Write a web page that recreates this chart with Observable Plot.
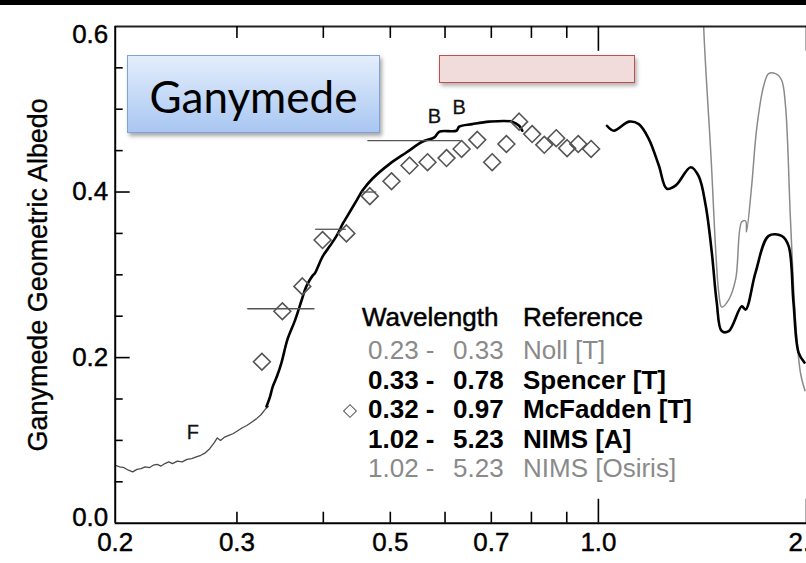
<!DOCTYPE html>
<html><head><meta charset="utf-8">
<script src="https://cdn.jsdelivr.net/npm/d3@7"></script>
<script src="https://cdn.jsdelivr.net/npm/@observablehq/plot@0.6"></script>
<style>
html,body{margin:0;padding:0;background:#fff;overflow:hidden;}
#wrap{position:relative;width:806px;height:563px;overflow:hidden;background:#fff;}
#chart{position:absolute;left:0;top:0;}
#topbar{position:absolute;left:0;top:0;width:806px;height:5px;background:#000;}
.box{position:absolute;box-sizing:border-box;}
#gany{left:127px;top:55px;width:253px;height:78px;border:1.5px solid #7fa3d6;background:linear-gradient(#e4eefc,#a9c7f2);box-shadow:2px 3px 4px rgba(0,0,0,0.35);font-family:Lato,"Open Sans",sans-serif;font-size:44px;display:flex;align-items:center;justify-content:center;color:#000;padding-top:4px;}
#pink{left:439px;top:55px;width:196px;height:28px;border:1.5px solid #c0504d;background:#f2dcdb;box-shadow:2px 3px 4px rgba(0,0,0,0.3);}
#legend{position:absolute;left:0;top:0;font-family:"Liberation Sans",Arial,Helvetica,sans-serif;font-size:26px;}
#legend div{position:absolute;line-height:30px;white-space:pre;}
.grey{color:#8a8a8a;}
.blk{color:#000;font-weight:bold;}
.hdr{color:#000;-webkit-text-stroke:0.5px #000;}
#legdia{position:absolute;width:10px;height:10px;border:1.6px solid #555;transform:rotate(45deg);box-sizing:border-box;}
</style></head><body>
<div id="wrap">
  <div id="chart"></div>
  <div id="topbar"></div>
  <div class="box" id="gany">Ganymede</div>
  <div class="box" id="pink"></div>
  <div id="legend"></div>
</div>
<script>
// ---------- data ----------
// Noll [T] (0.23 - 0.33 um), grey thin line
const nollWl  = [0.200,0.203,0.206,0.209,0.212,0.215,0.218,0.221,0.224,0.227,0.230,0.233,0.236,0.239,0.242,0.246,0.250,0.254,0.258,0.262,0.266,0.270,0.274,0.278,0.281,0.284,0.288,0.292,0.296,0.300,0.305,0.310,0.315,0.320,0.325,0.330,0.333];
const nollAlb = [0.070,0.068,0.067,0.064,0.062,0.065,0.066,0.068,0.067,0.070,0.071,0.069,0.072,0.074,0.072,0.075,0.074,0.077,0.078,0.080,0.082,0.085,0.090,0.097,0.103,0.100,0.104,0.106,0.108,0.111,0.115,0.118,0.122,0.126,0.131,0.138,0.141];

// Spencer [T] (0.33 - 0.78 um), black line
const spencerWl  = [0.331,0.335,0.338,0.343,0.348,0.355,0.364,0.373,0.378,0.386,0.389,0.399,0.409,0.418,0.427,0.432,0.447,0.456,0.471,0.499,0.528,0.557,0.579,0.589,0.623,0.629,0.657,0.695,0.750,0.768,0.776];
const spencerAlb = [0.141,0.153,0.165,0.178,0.194,0.222,0.245,0.272,0.286,0.299,0.302,0.322,0.335,0.347,0.362,0.369,0.390,0.402,0.416,0.434,0.448,0.461,0.466,0.473,0.474,0.479,0.482,0.485,0.485,0.480,0.474];

// McFadden [T] (0.32 - 0.97 um), open diamonds
const mcfWl  = [0.326,0.349,0.373,0.399,0.432,0.467,0.502,0.533,0.566,0.603,0.634,0.668,0.702,0.736,0.768,0.802,0.835,0.869,0.901,0.935,0.976];
const mcfAlb = [0.195,0.256,0.286,0.342,0.350,0.395,0.413,0.432,0.436,0.441,0.452,0.463,0.436,0.458,0.485,0.470,0.457,0.465,0.453,0.458,0.452];

// NIMS [A] (1.02 - 5.23 um), black line
const nimsWl  = [1.029,1.053,1.107,1.144,1.183,1.223,1.256,1.294,1.360,1.397,1.430,1.459,1.483,1.508,1.544,1.612,1.633,1.688,1.763,1.841,1.884,1.915,1.948,1.987];
const nimsAlb = [0.480,0.474,0.485,0.482,0.464,0.432,0.404,0.408,0.430,0.419,0.383,0.327,0.267,0.232,0.232,0.262,0.258,0.303,0.347,0.347,0.335,0.267,0.206,0.194];

// NIMS [Osiris] (1.02 - 5.23 um), grey line (enters from above the frame)
const osirisWl  = [1.412,1.420,1.454,1.493,1.508,1.544,1.580,1.612,1.633,1.638,1.666,1.694,1.734,1.763,1.804,1.841,1.865,1.896,1.928,1.960,1.990];
const osirisAlb = [0.700,0.600,0.448,0.279,0.261,0.270,0.295,0.364,0.365,0.352,0.407,0.476,0.528,0.543,0.543,0.535,0.504,0.367,0.246,0.182,0.160];

// broadband points: horizontal bars (wavelength range at albedo)
const barAlb = [0.259,0.355,0.400,0.462];
const barLo  = [0.311,0.390,0.455,0.464];
const barHi  = [0.389,0.432,0.478,0.633];

// letter annotations
const annWl   = [0.579,0.629,0.259];
const annAlb  = [0.491,0.502,0.109];
const annText = ["B","B","F"];

// axis ticks
const xLabelTicks = [0.2,0.3,0.5,0.7,1.0,2.0];
const xMinorTicks = [0.3,0.4,0.5,0.6,0.7,0.8,0.9];
const xMajorTicks = [1.0,2.0];
const yLabelTicks = [0.0,0.2,0.4,0.6];
const yMinorTicks = [0.05,0.1,0.15,0.25,0.3,0.35,0.45,0.5,0.55];
const yMajorTicks = [0.2,0.4];

// legend
const legHeader = ["Wavelength","Reference"];
const legFrom = ["0.23 -","0.33 -","0.32 -","1.02 -","1.02 -"];
const legTo   = ["0.33","0.78","0.97","5.23","5.23"];
const legRef  = ["Noll [T]","Spencer [T]","McFadden [T]","NIMS [A]","NIMS [Osiris]"];
const legTone = ["grey","blk","blk","blk","grey"];

// ---------- build ----------
const pts = (xs, ys) => xs.map((x, i) => ({x, y: ys[i]}));
const noll = pts(nollWl, nollAlb);
const spencer = pts(spencerWl, spencerAlb);
const mcf = pts(mcfWl, mcfAlb);
const nims = pts(nimsWl, nimsAlb);
const osiris = pts(osirisWl, osirisAlb);
const bars = barAlb.map((y, i) => ({y, x1: barLo[i], x2: barHi[i]}));
const ann = annText.map((t, i) => ({x: annWl[i], y: annAlb[i], t}));

const MT = 26, MB = 39, H = 563;
const pxPerUnit = (H - MT - MB) / 0.6;
const dy = px => px / pxPerUnit;            // albedo span for a pixel length
const pxPerDecade = (808 - 115) / 1;        // log10(2.0/0.2) = 1
const dxf = px => Math.pow(10, px / pxPerDecade); // wavelength factor for a pixel length
const fmt = d3.format(".1f");
const lbl = {fill: "#000", stroke: "#000", strokeWidth: 0.45, fontSize: 26};

const plot = Plot.plot({
  width: 808, height: H,
  marginLeft: 115, marginRight: 0, marginTop: MT, marginBottom: MB,
  x: {type: "log", domain: [0.2, 2.0], axis: null},
  y: {domain: [0, 0.6], axis: null},
  style: {fontFamily: "'Liberation Sans', Arial, Helvetica, sans-serif", fontSize: "26px", background: "transparent", color: "#000"},
  marks: [
    Plot.line(noll, {x: "x", y: "y", stroke: "#4a4a4a", strokeWidth: 1.3}),
    Plot.line(spencer, {x: "x", y: "y", stroke: "#000", strokeWidth: 2.6, curve: "catmull-rom"}),
    Plot.line(osiris, {x: "x", y: "y", stroke: "#8a8a8a", strokeWidth: 1.5, curve: "catmull-rom", clip: true}),
    Plot.line(nims, {x: "x", y: "y", stroke: "#000", strokeWidth: 2.6, curve: "catmull-rom"}),
    Plot.ruleY(bars, {y: "y", x1: "x1", x2: "x2", stroke: "#555", strokeWidth: 1.3}),
    Plot.dot(mcf, {x: "x", y: "y", symbol: "diamond2", r: 7.6, stroke: "#555", strokeWidth: 1.6, fill: "none"}),
    Plot.text(ann, {x: "x", y: "y", text: "t", fontSize: 20, fill: "#111", stroke: "#111", strokeWidth: 0.3}),
    // frame
    Plot.ruleY([0], {stroke: "#000", strokeWidth: 2}),
    Plot.ruleY([0.6], {stroke: "#222", strokeWidth: 2}),
    Plot.ruleX([0.2], {stroke: "#000", strokeWidth: 2}),
    // inward ticks, bottom and top
    Plot.ruleX(xMinorTicks, {x: d => d, y1: 0, y2: dy(11), stroke: "#000", strokeWidth: 1.6}),
    Plot.ruleX(xMajorTicks, {x: d => d, y1: 0, y2: dy(24), stroke: "#000", strokeWidth: 1.6}),
    Plot.ruleX(xMinorTicks, {x: d => d, y1: 0.6, y2: 0.6 - dy(12), stroke: "#000", strokeWidth: 1.6}),
    Plot.ruleX(xMajorTicks, {x: d => d, y1: 0.6, y2: 0.6 - dy(25), stroke: "#000", strokeWidth: 1.6}),
    // inward ticks, left
    Plot.ruleY(yMinorTicks, {y: d => d, x1: 0.2, x2: 0.2 * dxf(8), stroke: "#000", strokeWidth: 1.6}),
    Plot.ruleY(yMajorTicks, {y: d => d, x1: 0.2, x2: 0.2 * dxf(15), stroke: "#000", strokeWidth: 1.6}),
    // tick labels
    Plot.text(xLabelTicks, {x: d => d, y: 0, text: d => fmt(d), dy: 20, lineAnchor: "middle", ...lbl}),
    Plot.text(yLabelTicks.filter(d => d > 0 && d < 0.6), {x: 0.2, y: d => d, text: d => fmt(d), textAnchor: "end", dx: -7, lineAnchor: "middle", ...lbl}),
    Plot.text(yLabelTicks.filter(d => d === 0.6), {x: 0.2, y: d => d, text: d => fmt(d), textAnchor: "end", dx: -7, dy: 8, lineAnchor: "middle", ...lbl}),
    Plot.text(yLabelTicks.filter(d => d === 0), {x: 0.2, y: d => d, text: d => fmt(d), textAnchor: "end", dx: -7, dy: -6, lineAnchor: "middle", ...lbl}),
    // y title
    Plot.text(["Ganymede Geometric Albedo"], {text: d => d, frameAnchor: "left", rotate: -90, dx: -77, textAnchor: "middle", lineAnchor: "middle", fontSize: 27, fill: "#000", stroke: "#000", strokeWidth: 0.35})
  ]
});
document.getElementById("chart").appendChild(plot);

// legend (HTML overlay)
const leg = document.getElementById("legend");
function add(txt, cls, left, center) {
  const d = document.createElement("div");
  d.className = cls; d.textContent = txt;
  d.style.left = left + "px"; d.style.top = (center - 15) + "px";
  leg.appendChild(d);
}
add(legHeader[0], "hdr", 362, 317);
add(legHeader[1], "hdr", 523, 317);
legRef.forEach((r, i) => {
  const c = 350 + i * 29.5;
  add(legFrom[i], legTone[i], 368, c);
  add(legTo[i], legTone[i], 453, c);
  add(r, legTone[i], 523, c);
});
const dia = document.createElement("div");
dia.id = "legdia"; dia.style.left = "345px"; dia.style.top = (350 + 2 * 29.5 + 2 - 5) + "px";
leg.appendChild(dia);
</script>
</body></html>
